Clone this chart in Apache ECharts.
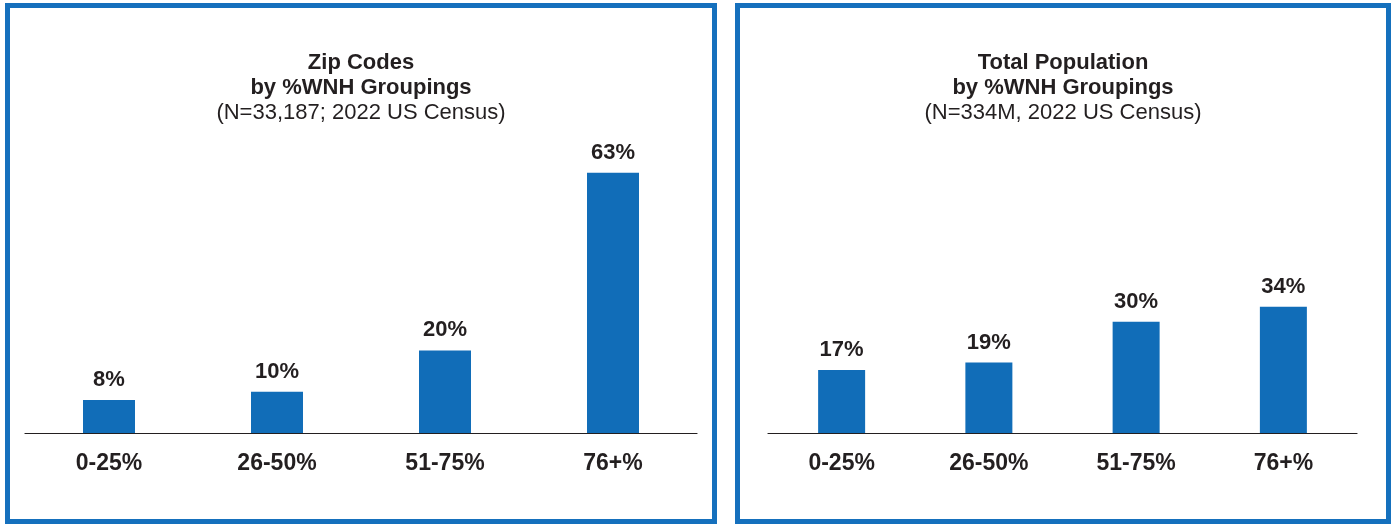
<!DOCTYPE html>
<html>
<head>
<meta charset="utf-8">
<script src="https://cdn.jsdelivr.net/npm/echarts@6/dist/echarts.min.js"></script>
<style>
  html, body { margin: 0; padding: 0; background: #ffffff; }
  #chart { width: 1395px; height: 524px; }
</style>
</head>
<body>
<div id="chart"></div>
<script>
// Share of zip codes and of total population by % white non-Hispanic grouping
const categories = ['0-25%', '26-50%', '51-75%', '76+%'];
const zipCodeShare = [8, 10, 20, 63];
const populationShare = [17, 19, 30, 34];

const leftTitle = 'Zip Codes\nby %WNH Groupings';
const leftSub = '(N=33,187; 2022 US Census)';
const rightTitle = 'Total Population\nby %WNH Groupings';
const rightSub = '(N=334M, 2022 US Census)';

const FONT = '"Liberation Sans", Arial, Helvetica, sans-serif';
const TEXT = '#231f20';
const BAR = '#116db8';
const FRAME = '#1570bd';

const chart = echarts.init(document.getElementById('chart'), null, { renderer: 'canvas' });

function titleFor(text, sub, cx) {
  return {
    text: text,
    subtext: sub,
    left: cx,
    top: 50,
    textAlign: 'center',
    itemGap: 0,
    padding: 0,
    textStyle: { fontFamily: FONT, fontSize: 22, fontWeight: 'bold', color: TEXT, lineHeight: 25 },
    subtextStyle: { fontFamily: FONT, fontSize: 22, fontWeight: 'normal', color: TEXT, lineHeight: 26 }
  };
}

function xAxisFor(idx) {
  return {
    type: 'category',
    gridIndex: idx,
    data: categories,
    axisTick: { show: false },
    axisLine: { lineStyle: { color: '#231f20', width: 1.2 } },
    axisLabel: { fontFamily: FONT, fontSize: 23, fontWeight: 'bold', color: TEXT, margin: 19 }
  };
}

function yAxisFor(idx) {
  return { type: 'value', gridIndex: idx, min: 0, max: 100, show: false, splitLine: { show: false } };
}

function seriesFor(idx, values, width) {
  return {
    type: 'bar',
    xAxisIndex: idx,
    yAxisIndex: idx,
    data: values,
    barWidth: width,
    itemStyle: { color: BAR },
    label: {
      show: true,
      position: 'top',
      distance: 9,
      formatter: '{c}%',
      fontFamily: FONT,
      fontSize: 22,
      fontWeight: 'bold',
      color: TEXT
    }
  };
}

chart.setOption({
  animation: false,
  backgroundColor: '#ffffff',
  title: [
    titleFor(leftTitle, leftSub, 361),
    titleFor(rightTitle, rightSub, 1063)
  ],
  grid: [
    { left: 25, right: 698, top: 20, bottom: 91 },
    { left: 768, right: 38, top: 62, bottom: 91 }
  ],
  xAxis: [xAxisFor(0), xAxisFor(1)],
  yAxis: [yAxisFor(0), yAxisFor(1)],
  series: [
    seriesFor(0, zipCodeShare, 52),
    seriesFor(1, populationShare, 47)
  ],
  graphic: [
    { type: 'rect', shape: { x: 7.5, y: 5.5, width: 707, height: 516 },
      style: { fill: 'none', stroke: FRAME, lineWidth: 5 }, z: 10 },
    { type: 'rect', shape: { x: 737.5, y: 5.5, width: 651, height: 516 },
      style: { fill: 'none', stroke: FRAME, lineWidth: 5 }, z: 10 }
  ]
});
</script>
</body>
</html>
